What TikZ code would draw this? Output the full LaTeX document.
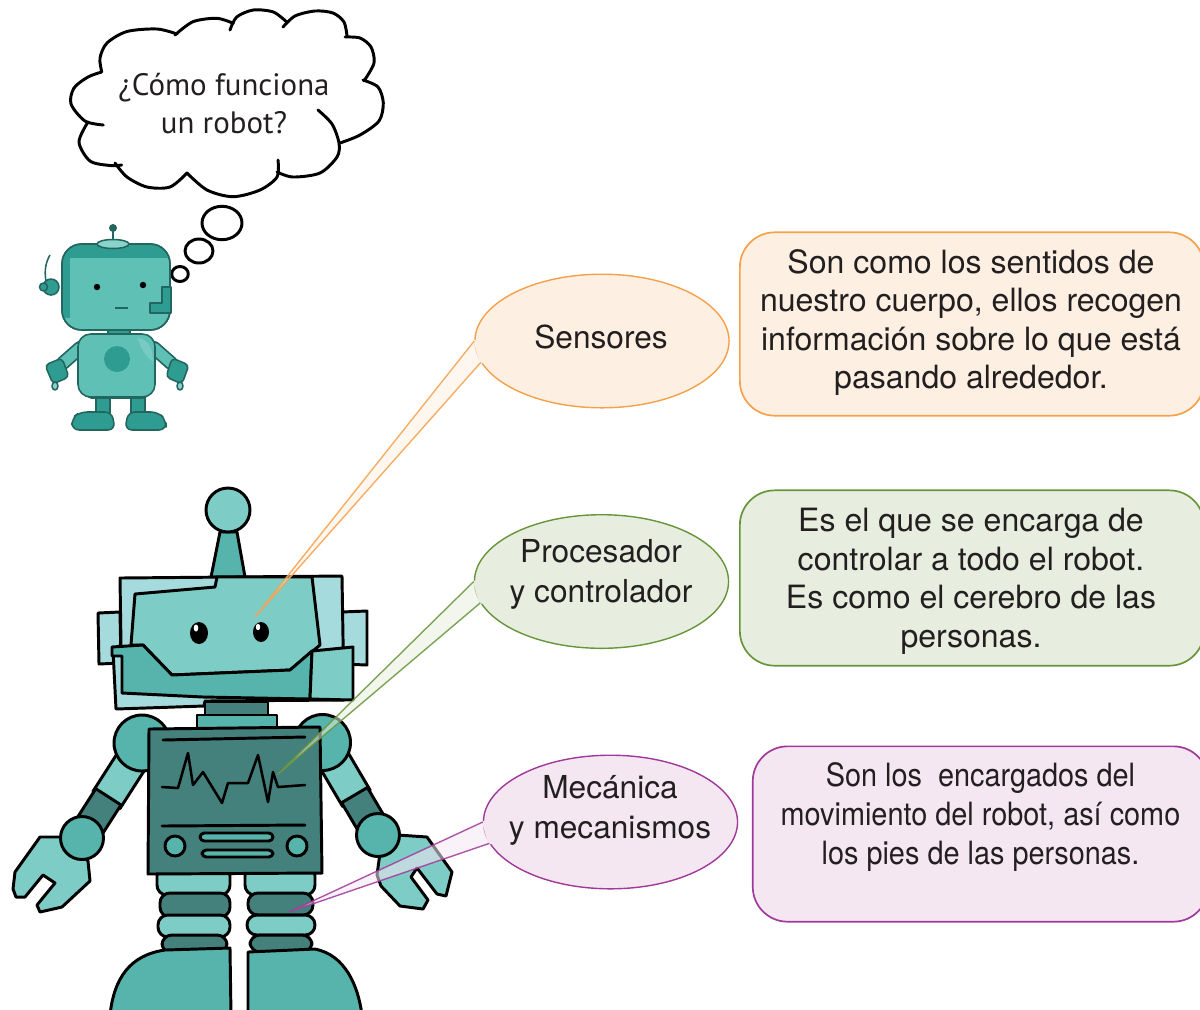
\documentclass[tikz,border=0pt]{standalone}
\usepackage{fontspec}
\setmainfont{TeX Gyre Heros}
\newfontfamily\cloudfont{PT Sans}
\newfontfamily\narrowfont{TeX Gyre Heros}[FakeStretch=0.9]
\usetikzlibrary{shapes.geometric,calc}

\definecolor{ink}{HTML}{231F20}
\definecolor{orangeline}{HTML}{F5A04A}
\definecolor{orangefill}{HTML}{FDF0E2}
\definecolor{greenline}{HTML}{67953A}
\definecolor{greenfill}{HTML}{E7EEDF}
\definecolor{purpleline}{HTML}{A1399A}
\definecolor{purplefill}{HTML}{F4E7F2}
\definecolor{tealpale}{HTML}{A6DBDD}
\definecolor{teallight}{HTML}{7ECCC6}
\definecolor{tealmid}{HTML}{56B4AD}
\definecolor{tealdark}{HTML}{44807C}
\definecolor{sbody}{HTML}{5FC0B6}
\definecolor{sdark}{HTML}{2F9C91}
\definecolor{sline}{HTML}{23655F}
\definecolor{shigh}{HTML}{8AD3CB}

\begin{document}
\begin{tikzpicture}[x=0.025cm,y=-0.025cm,
  rob/.style={draw=black, line width=2.1pt, line join=round, line cap=round},
  srob/.style={draw=sline, line width=1.1pt, line join=round, line cap=round},
  bubble/.style={ellipse, inner sep=0pt, minimum width=180.7pt, minimum height=95pt,
    line width=1pt},
  bubbletext/.style={align=center, text=ink, inner sep=0pt,
    font=\fontsize{22.5}{28.3}\selectfont},
  infobox/.style={rectangle, rounded corners=24.8pt, inner sep=0pt, line width=1.2pt,
    minimum height=124.7pt},
  infotext/.style={align=center, text=ink, inner sep=0pt,
    font=\fontsize{22.8}{27.4}\selectfont},
  cloudline/.style={draw=black, line width=2.1pt, line cap=round, line join=round},
  tailline/.style={line width=1pt, draw opacity=.85}
]
\useasboundingbox (0,0) rectangle (1200,1009);
\clip (0,0) rectangle (1200,1009);

% ---------------- thought cloud ----------------
\fill[white] plot[smooth cycle] coordinates {(102,72) (104,40) (157,29) (193,21) (253,10) (326,11) (370,46) (383,103) (340,143) (320,173) (233,197) (147,187) (88,160) (71,102)};
\draw[cloudline] plot[smooth] coordinates {(101.7,71.7) (100,58) (107,43) (127,31.5) (157,29) (177,34)};
\draw[cloudline] plot[smooth] coordinates {(175,35) (193,21.7) (216.7,18.3) (233.3,23.3)};
\draw[cloudline] plot[smooth] coordinates {(230,30) (236.7,17) (253.3,10) (273.3,12) (286.7,22)};
\draw[cloudline] plot[smooth] coordinates {(283,27) (295,16) (315,11) (333,13) (344,22) (347,36)};
\draw[cloudline] plot[smooth] coordinates {(345,37) (360,38) (371,47) (374,63) (364,81)};
\draw[cloudline] plot[smooth] coordinates {(363,80) (378,87) (383.3,103) (379,121) (360,135) (340,143)};
\draw[cloudline] plot[smooth] coordinates {(318,110) (332,124) (339,143) (337,157) (320,173) (293,177) (277,172)};
\draw[cloudline] plot[smooth] coordinates {(278,160) (277,177) (260,190) (233,196.7) (207,190) (187,173)};
\draw[cloudline] plot[smooth] coordinates {(187,173) (170,187) (147,187) (127,177) (115,163)};
\draw[cloudline] plot[smooth] coordinates {(121.7,165) (110,165.5) (90,161) (79,142) (88,122)};
\draw[cloudline] plot[smooth] coordinates {(103.3,125) (85,121) (71,104) (74,88) (88,77) (101.7,72)};
\node[align=center, text=ink, font=\cloudfont\fontsize{22}{27}\selectfont] (question) at (224,104) {¿Cómo funciona\\un robot?};
\draw[cloudline, fill=white] (222,223) ellipse [x radius=20, y radius=16.7];
\draw[cloudline, fill=white] (199,251) ellipse [x radius=14, y radius=12];
\draw[cloudline, fill=white] (180,274) ellipse [x radius=8.3, y radius=7.5];

% ---------------- small robot ----------------
% legs and feet
\draw[srob, fill=sdark] (96,395) rectangle (110,415);
\draw[srob, fill=sdark] (131,395) rectangle (145,415);
\draw[srob, fill=sdark, rounded corners=5pt] (72,430) -- (72,418) -- (80,412) -- (112,412) -- (115,430) -- cycle;
\draw[srob, fill=sdark, rounded corners=5pt] (125,430) -- (128,412) -- (158,412) -- (166,420) -- (166,430) -- cycle;
\draw[srob, fill=sbody, rounded corners=3pt] (87,388) rectangle (147,398);
% arms
\draw[sline, line width=10pt, line cap=round] (80,348) -- (63,363);
\draw[sbody, line width=7.5pt, line cap=round] (80,348) -- (63,363);
\draw[sline, line width=10pt, line cap=round] (154,348) -- (171,363);
\draw[sbody, line width=7.5pt, line cap=round] (154,348) -- (171,363);
\draw[srob, fill=sdark, rounded corners=3pt] (45,365) -- (62,358) -- (69,377) -- (53,384) -- cycle;
\draw[srob, fill=shigh] (55,386) ellipse [x radius=3, y radius=4];
\draw[srob, fill=sdark, rounded corners=3pt] (172,358) -- (189,365) -- (182,384) -- (166,377) -- cycle;
\draw[srob, fill=shigh] (180,386) ellipse [x radius=3, y radius=4];
% neck and body
\draw[srob, fill=sdark] (108,327) rectangle (130,336);
\draw[srob, fill=sbody, rounded corners=9pt] (78,334) rectangle (155,397);
\fill[shigh, opacity=.6] (138,338) .. controls (150,340) and (153,350) .. (153,362) .. controls (146,356) and (140,348) .. cycle;
\fill[sdark] (117,359) circle [radius=13];
% head
\draw[sline, line width=1.1pt] (46,281) .. controls (44,270) and (46,262) .. (50,255);
\draw[srob, fill=sdark] (51,287) circle [radius=8];
\draw[srob, fill=sdark] (43.5,287) circle [radius=4];
\draw[srob, fill=sbody, rounded corners=14pt] (62,244) rectangle (170,330);
\begin{scope}
  \clip[rounded corners=14pt] (62,244) rectangle (170,330);
  \fill[sdark] (62,244) rectangle (170,258);
  \fill[sdark] (62,258) rectangle (70,318);
\end{scope}
\draw[srob] (62,244) [rounded corners=14pt] rectangle (170,330);
\draw[sline, line width=2pt] (113,243) -- (113,229);
\fill[sline] (113,228) circle [radius=4];
\draw[srob, fill=shigh] (113,244) ellipse [x radius=16, y radius=4.5];
\fill[black] (97,287) circle [radius=3.2];
\fill[black] (143,285) circle [radius=3.2];
\draw[sline, line width=1.1pt] (115,308) -- (128,308);
\draw[srob, fill=sdark] (150,303) -- (162,303) -- (162,287) -- (171,287) -- (171,313) -- (150,313) -- cycle;

% ---------------- big robot ----------------
% hands
\draw[rob, fill=teallight] (15,872) -- (40,837) -- (62,837) -- (88,861) -- (90,881) -- (62,907) -- (40,912) -- (37,905) -- (55,883) -- (43,875) -- (25,897) -- (16,897) -- (13,889) -- cycle;
\draw[rob, fill=teallight] (377,875) -- (380,853) -- (398,835) -- (427,837) -- (452,872) -- (446,896) -- (437,894) -- (417,868) -- (411,877) -- (428,900) -- (423,909) -- (400,906) -- (381,886) -- cycle;
% arms
\draw[rob, fill=teallight] (145.7,768.4) -- (119.8,808.8) -- (92.8,791.6) -- (118.7,751.2) -- cycle;
\draw[rob, fill=tealdark] (121.0,804.9) -- (101.6,835.2) -- (76.4,819) -- (95.8,788.7) -- cycle;
\draw[rob, fill=teallight] (346,749.1) -- (370.3,790.4) -- (342.7,806.6) -- (318.4,765.3) -- cycle;
\draw[rob, fill=tealdark] (367.4,787.5) -- (385.7,818.5) -- (359.9,833.7) -- (341.6,802.7) -- cycle;
\draw[rob, fill=tealmid] (82,838) circle [radius=21.5];
\draw[rob, fill=tealmid] (378,835) circle [radius=21.5];
\draw[rob, fill=tealmid] (142,743) circle [radius=28];
\draw[rob, fill=tealmid] (322.5,742.5) circle [radius=28];
% legs
\draw[rob, fill=teallight, rounded corners=7pt] (157,866) rectangle (230,895);
\draw[rob, fill=tealdark, rounded corners=7pt] (160,893) rectangle (230,917);
\draw[rob, fill=teallight, rounded corners=7pt] (158,915) rectangle (230,937);
\draw[rob, fill=tealdark, rounded corners=7pt] (162,935) rectangle (227,953);
\draw[rob, fill=teallight, rounded corners=7pt] (245,866) rectangle (315,895);
\draw[rob, fill=tealdark, rounded corners=7pt] (248,893) rectangle (313,915);
\draw[rob, fill=teallight, rounded corners=7pt] (247,915) rectangle (315,935);
\draw[rob, fill=tealdark, rounded corners=7pt] (250,935) rectangle (312,952);
% feet
\draw[rob, fill=tealmid] (110,1015) .. controls (114,978) and (130,955) .. (165,950) -- (230,948) -- (231,1015) -- cycle;
\draw[rob, fill=tealmid] (248,1015) -- (248,952) -- (315,949) .. controls (345,955) and (358,985) .. (362,1015) -- cycle;
% neck
\draw[rob, fill=tealdark] (205,702) rectangle (268,716);
\draw[rob, fill=tealmid] (197,715) rectangle (277,729);
% torso
\draw[rob, fill=tealdark] (149,729) -- (320,727) -- (322,873) -- (148,874) -- cycle;
\draw[rob] (163,740) -- (305,737);
\draw[rob, line width=1.8pt] (162,787) -- (178,788) -- (188,753) -- (193,785) -- (203,772) -- (222,803) -- (228,783) -- (248,783) -- (258,755) -- (268,802) -- (273,772) -- (278,787) -- (305,785);
\draw[rob] (162,826) -- (305,825);
\draw[rob, fill=tealmid] (175,846) circle [radius=10];
\draw[rob, fill=tealmid] (297,846) circle [radius=10];
\draw[rob, fill=tealmid, rounded corners=3pt] (200,833) rectangle (273,841);
\draw[rob, fill=tealmid, rounded corners=3pt] (202,850) rectangle (273,857);
% antenna
\draw[rob, fill=tealmid] (220,532) -- (237,532) -- (245,577) -- (211,577) -- cycle;
\draw[rob, fill=teallight] (228,510) circle [radius=22];
% head
\draw[rob, fill=tealpale] (98,613) -- (120,612) -- (121,663) -- (99,664) -- cycle;
\draw[rob, fill=tealpale] (341,612) -- (367,611) -- (367,665) -- (342,664) -- cycle;
\draw[rob, fill=tealpale] (120,578) -- (342,576) -- (344,700) -- (205,701) -- (204,706) -- (116,709) -- (113,650) -- (121,645) -- cycle;
\draw[rob, fill=teallight] (135,594) -- (215,587) -- (217,577) -- (312,577) -- (320,645) -- (290,670) -- (172,675) -- (143,645) -- (131,645) -- cycle;
\draw[rob, fill=tealmid] (112,647) -- (143,645) -- (172,675) -- (290,670) -- (312,651) -- (310,699) -- (203,697) -- (122,693) -- (122,656) -- (112,656) -- cycle;
\draw[rob, fill=teallight] (312,651) -- (353,647) -- (353,700) -- (310,699) -- cycle;
\fill[black] (199,633) ellipse [x radius=9, y radius=11];
\fill[black] (261,632) ellipse [x radius=8, y radius=10];
\fill[white] (196,628) ellipse [x radius=2.3, y radius=3.5];
\fill[white] (258,627) ellipse [x radius=2.2, y radius=3.2];

% ---------------- callout bubbles ----------------
\coordinate (sensTip) at (255,617);
\coordinate (procTip) at (277,775);
\coordinate (mechTip) at (289,912);

\node[bubble, draw=orangeline, fill=orangefill] (sens) at (602,341) {};
\node[bubble, draw=greenline, fill=greenfill] (proc) at (601.5,581.5) {};
\node[bubble, draw=purpleline, fill=purplefill] (mech) at (610.5,822) {};

\foreach \b/\t/\c in {sens/sensTip/orange, proc/procTip/green, mech/mechTip/purple}{
  \fill[\c fill, fill opacity=.55] (\b.180) -- (\t) -- (\b.190) -- cycle;
  \fill[\c fill] ($(\b.180)+(-1,-1)$) -- ($(\b.190)+(-1,1)$) -- ($(\b.190)+(10,0)$) -- ($(\b.180)+(10,0)$) -- cycle;
  \draw[\c line, tailline] (\b.180) -- (\t) -- (\b.190);
}

\node[bubbletext] (sensLabel) at (601,337) {Sensores};
\node[bubbletext] (procLabel) at (601,574) {Procesador\\y controlador};
\node[bubbletext] (mechLabel) at (610,810) {Mecánica\\y mecanismos};

% ---------------- explanation boxes ----------------
\node[infobox, draw=orangeline, fill=orangefill, minimum width=330.2pt, minimum height=130.4pt] (sensBox) at (972,324) {};
\node[infobox, draw=greenline, fill=greenfill, minimum width=330.2pt] (procBox) at (972,578) {};
\node[infobox, draw=purpleline, fill=purplefill, minimum width=323.9pt] (mechBox) at (980.5,834) {};

\node[infotext] (sensText) at (971,322.5) {Son como los sentidos de\\nuestro cuerpo, ellos recogen\\información sobre lo que está\\pasando alrededor.};
\node[infotext] (procText) at (971,581.5) {Es el que se encarga de\\controlar a todo el robot.\\Es como el cerebro de las\\personas.};
\node[infotext, font=\narrowfont\fontsize{22.8}{27.4}\selectfont] (mechText) at (980.5,817) {Son los\ \ encargados del\\movimiento del robot, así como\\los pies de las personas.};
\end{tikzpicture}
\end{document}
